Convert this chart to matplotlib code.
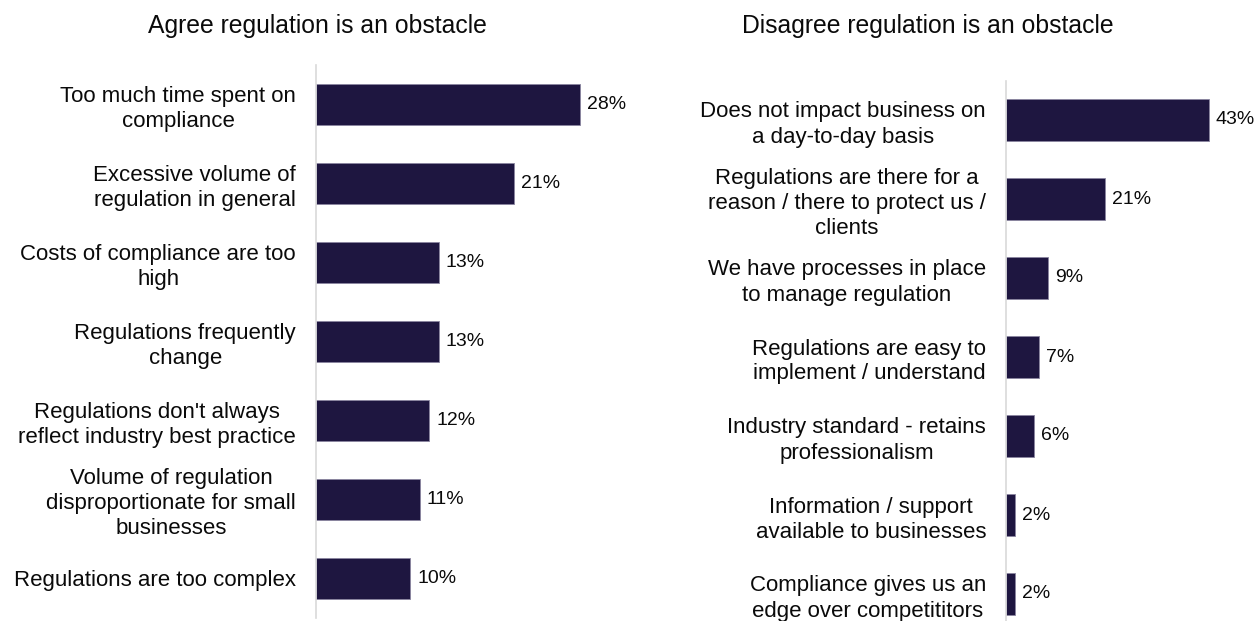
import matplotlib.pyplot as plt

plt.rcParams['font.family'] = ['Liberation Sans', 'DejaVu Sans']

agree_labels = [
    "Too much time spent on\ncompliance",
    "Excessive volume of\nregulation in general",
    "Costs of compliance are too\nhigh",
    "Regulations frequently\nchange",
    "Regulations don't always\nreflect industry best practice",
    "Volume of regulation\ndisproportionate for small\nbusinesses",
    "Regulations are too complex",
]
agree_values = [28, 21, 13, 13, 12, 11, 10]

disagree_labels = [
    "Does not impact business on\na day-to-day basis",
    "Regulations are there for a\nreason / there to protect us /\nclients",
    "We have processes in place\nto manage regulation",
    "Regulations are easy to\nimplement / understand",
    "Industry standard - retains\nprofessionalism",
    "Information / support\navailable to businesses",
    "Compliance gives us an\nedge over competititors",
]
disagree_values = [43, 21, 9, 7, 6, 2, 2]

bar_color = '#1e1640'
W, H = 1257, 621

fig = plt.figure(figsize=(W / 100, H / 100), dpi=100)


def panel(x0, top, bottom, xmax, px_per_unit, labels, values, title, title_x):
    width = xmax * px_per_unit
    ax = fig.add_axes([x0 / W, (H - bottom) / H, width / W, (bottom - top) / H])
    y = range(len(values))
    ax.barh(y, values, height=0.52, color=bar_color, edgecolor='#8a85a0', linewidth=0.6)
    ax.set_xlim(0, xmax)
    ax.set_ylim(len(values) - 0.5, -0.5)
    for i, v in zip(y, values):
        ax.text(v + 7 / px_per_unit, i, f"{v}%", va='center', ha='left', fontsize=14, color='#0a0a0a')
    ax.set_yticks(list(y))
    ax.set_yticklabels(labels, fontsize=16, color='#0a0a0a', linespacing=1.25,
                       multialignment='center')
    ax.tick_params(axis='y', length=0, pad=14.4)
    ax.set_xticks([])
    for s in ['top', 'right', 'bottom']:
        ax.spines[s].set_visible(False)
    ax.spines['left'].set_color('#d9d9d9')
    ax.spines['left'].set_linewidth(1.2)
    fig.text(title_x / W, 1 - 26 / H, title, ha='center', va='center', fontsize=17.8, color='#0a0a0a')
    return ax


panel(316, 65, 617.5, 30, 9.43, agree_labels, agree_values,
      "Agree regulation is an obstacle", 317)
panel(1006, 80.5, 633.5, 50, 4.72, disagree_labels, disagree_values,
      "Disagree regulation is an obstacle", 928)

fig.savefig('out.png', dpi=100)
